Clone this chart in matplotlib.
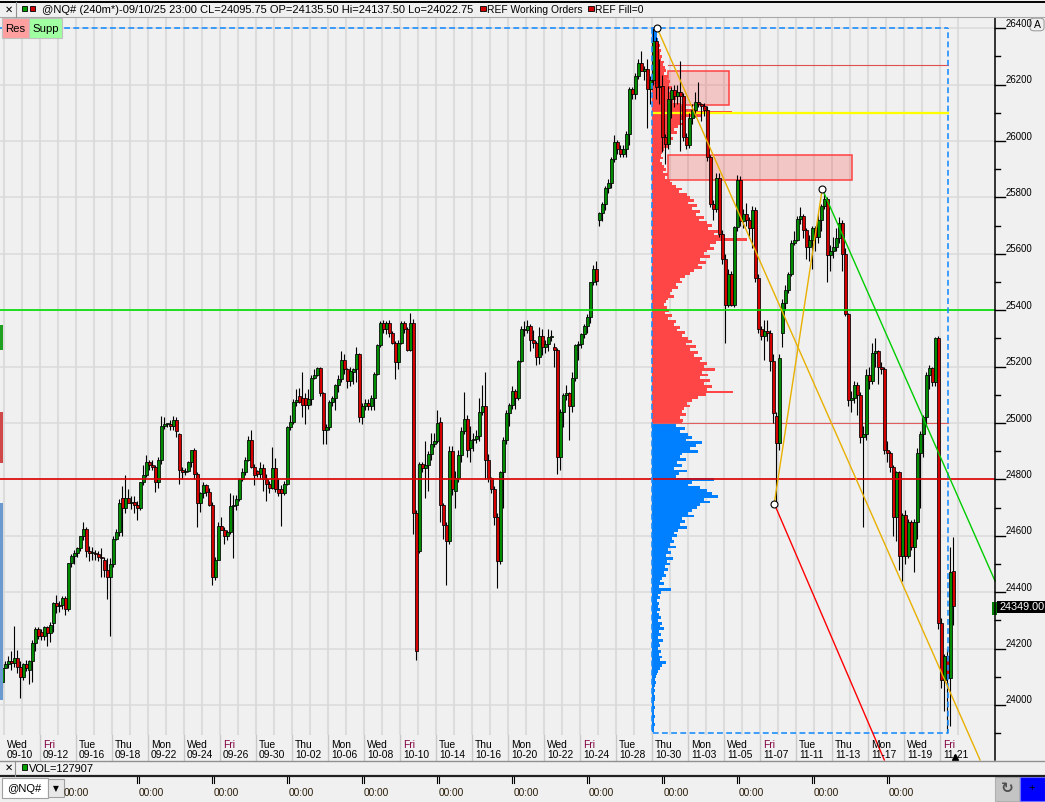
import matplotlib
matplotlib.use("Agg")
import matplotlib.pyplot as plt
from matplotlib.patches import Rectangle, FancyBboxPatch
from matplotlib.lines import Line2D

# ---------------- DATA (240-minute NQ bars) ----------------
opens = [
24080,24130,24145,24155,24150,24165,24135,24100,24145,24125,
24155,24220,24270,24260,24245,24275,24255,24290,24360,24350,
24355,24380,24340,24505,24530,24540,24555,24600,24625,24545,
24540,24540,24535,24525,24515,24480,24455,24500,24590,24615,
24735,24700,24735,24715,24720,24710,24700,24790,24815,24860,
24850,24845,24790,24870,24990,24995,24995,24990,25010,24960,
24835,24825,24830,24860,24905,24820,24715,24750,24780,24755,
24710,24455,24515,24635,24620,24600,24615,24705,24710,24730,
24800,24825,24870,24940,24845,24830,24820,24840,24800,24785,
24770,24840,24765,24765,24750,24785,24985,25005,25075,25095,
25090,25090,25065,25085,25160,25170,25195,25105,24975,24985,
25075,25090,25135,25155,25225,25190,25150,25180,25190,25245,
25020,25060,25070,25060,25090,25175,25275,25355,25335,25355,
25320,25285,25215,25285,25355,25335,25260,25355,24680,24545,
24855,24840,24850,24890,24925,24935,25005,24710,24640,24580,
24900,24760,24805,24885,24970,25015,24910,24940,24945,24955,
25040,25060,24870,24805,24765,24665,24510,24825,24940,25035,
25065,25115,25090,25220,25335,25330,25345,25295,25285,25235,
25310,25270,25280,25305,25270,25260,24880,25040,25100,25105,
25060,25160,25275,25280,25315,25345,25375,25500,25545,25720,
25745,25775,25835,25850,25935,25995,25970,25955,25970,26025,
26185,26165,26230,26275,26250,26255,26185,26215,26355,26190,
26195,26015,25990,26150,26180,26160,26175,26160,26015,25985,
26080,26110,26140,26130,26125,26110,25945,25775,25760,25870,
25670,25580,25420,25530,25420,25695,25860,25715,25740,25720,
25690,25755,25515,25335,25310,25325,25320,25220,25025,24930,
25320,25425,25470,25530,25640,25650,25725,25735,25685,25625,
25650,25690,25660,25720,25770,25795,25595,25610,25625,25655,
25710,25600,25385,25080,25090,25135,25100,24950,24960,25170,
25150,25250,25255,25200,25190,24905,24895,24845,24665,24825,
24530,24675,24530,24650,24560,24650,24895,24960,25020,25170,
25195,25145,25300,24290,24090,24175,24095,24475]
highs = [
24150,24155,24175,24190,24280,24195,24155,24150,24160,24160,
24230,24275,24275,24270,24280,24280,24295,24365,24390,24370,
24385,24385,24505,24535,24550,24560,24600,24650,24630,24565,
24560,24550,24545,24555,24525,24520,24520,24600,24625,24730,
24775,24815,24765,24740,24740,24725,24790,24850,24885,24870,
24870,24850,24880,25025,25020,25000,25010,25025,25020,24965,
24845,24840,24865,24905,24910,24825,24755,24790,24785,24770,
24720,24525,24650,24665,24630,24620,24750,24745,24745,24805,
24840,24880,24955,24975,24855,24835,24860,24855,24820,24795,
24915,24875,24805,24780,24795,24990,25030,25085,25120,25125,
25180,25105,25120,25170,25190,25200,25200,25110,24995,25080,
25095,25140,25170,25255,25245,25195,25200,25195,25270,25250,
25070,25085,25085,25100,25180,25280,25360,25365,25360,25365,
25325,25290,25295,25360,25360,25340,25390,25370,24690,24860,
24860,24935,24900,24965,24965,25045,25020,24715,24650,24920,
24920,24830,24905,24985,25110,25030,24990,24965,24975,25090,
25135,25180,24890,24810,24775,24680,24830,24950,25045,25070,
25130,25120,25225,25345,25360,25365,25350,25330,25290,25340,
25335,25295,25335,25330,25285,25265,25050,25105,25135,25110,
25180,25280,25290,25320,25350,25385,25500,25560,25575,25750,
25785,25840,25865,25945,26020,26005,25985,25985,26035,26190,
26190,26240,26290,26320,26265,26290,26230,26400,26370,26290,
26235,26025,26195,26190,26200,26200,26285,26170,26030,26100,
26130,26175,26210,26135,26135,26125,25950,25790,25885,25885,
25685,25600,25545,25540,25700,25880,25875,25760,25780,25730,
25770,25765,25530,25345,25365,25365,25330,25245,25040,25245,
25440,25490,25535,25650,25680,25735,25765,25740,25690,25665,
25700,25700,25745,25775,25830,25800,25630,25660,25690,25730,
25720,25620,25390,25115,25150,25145,25110,24990,25190,25200,
25285,25300,25260,25215,25200,24935,24900,24850,24830,24830,
24680,24690,24660,24655,24660,24910,24970,25030,25180,25205,
25200,25305,25310,24310,24180,24200,24560,24595]
lows = [
24065,24130,24130,24125,24135,24115,24025,24090,24120,24075,
24080,24190,24235,24230,24230,24210,24225,24260,24325,24330,
24340,24320,24335,24490,24500,24525,24545,24585,24525,24510,
24515,24515,24510,24455,24455,24375,24245,24490,24585,24600,
24600,24680,24720,24695,24680,24655,24690,24780,24810,24835,
24835,24755,24770,24855,24980,24985,24975,24975,24950,24785,
24800,24815,24825,24845,24800,24630,24685,24735,24740,24705,
24425,24445,24515,24620,24570,24585,24605,24520,24690,24725,
24795,24815,24865,24840,24780,24810,24800,24760,24725,24750,
24765,24755,24740,24635,24745,24780,24975,24995,25060,25070,
25020,24995,25050,25065,25155,25165,25095,24925,24925,24975,
25060,25045,25110,25145,25175,25125,25130,25140,25145,25005,
24995,25045,25045,25045,25045,25170,25270,25320,25315,25305,
25280,25155,25190,25280,25320,25255,25255,24605,24160,24540,
24825,24735,24760,24870,24915,24930,24650,24590,24425,24570,
24745,24700,24790,24860,24960,24880,24860,24900,24930,24935,
25030,24800,24790,24750,24640,24415,24500,24700,24925,24990,
25050,25050,25080,25215,25310,25320,25255,25265,25205,25210,
25240,25250,25255,25290,25200,24820,24835,24985,25080,24940,
25040,25150,25225,25265,25300,25320,25355,25490,25490,25700,
25715,25755,25815,25835,25925,25955,25945,25945,25945,25985,
26150,26150,26220,26250,26215,26045,26130,26200,26150,26130,
25960,25920,25970,26080,26120,26130,25965,26000,25970,25975,
26060,26085,26120,26070,26090,25930,25765,25720,25750,25660,
25565,25285,25410,25415,25410,25680,25700,25690,25700,25655,
25620,25500,25320,25295,25225,25290,25185,25000,24715,24905,
25270,25400,25460,25520,25630,25645,25705,25655,25580,25575,
25545,25610,25640,25680,25760,25500,25540,25585,25610,25640,
25540,25380,25060,25040,25070,25030,24930,24630,24940,25120,
25140,25200,25140,25175,24890,24860,24825,24600,24580,24480,
24440,24500,24520,24550,24470,24590,24700,24880,24990,25120,
25130,25130,24270,24060,23980,23900,23925,24285]
closes = [
24130,24145,24155,24150,24165,24135,24100,24145,24130,24155,
24220,24270,24245,24245,24275,24255,24285,24360,24350,24355,
24380,24340,24505,24530,24540,24555,24600,24625,24545,24540,
24540,24535,24525,24520,24480,24455,24500,24590,24615,24715,
24700,24735,24715,24715,24710,24700,24790,24815,24860,24850,
24845,24790,24870,24990,24995,24995,24990,25010,24970,24835,
24825,24830,24860,24905,24820,24715,24750,24780,24755,24710,
24455,24515,24635,24620,24600,24615,24705,24710,24730,24800,
24825,24870,24940,24845,24815,24820,24840,24800,24785,24770,
24840,24765,24750,24750,24785,24985,25005,25075,25080,25075,
25065,25065,25085,25160,25170,25195,25105,24975,24985,25075,
25090,25135,25155,25225,25190,25150,25185,25190,25245,25020,
25060,25070,25060,25090,25175,25275,25355,25335,25355,25320,
25285,25215,25285,25355,25335,25260,25355,24680,24190,24855,
24840,24850,24890,24925,24935,25000,24710,24640,24580,24900,
24765,24805,24885,24970,25015,24905,24940,24945,24955,25040,
25060,24870,24805,24765,24665,24510,24825,24940,25035,25065,
25115,25090,25220,25335,25330,25345,25295,25285,25235,25310,
25270,25280,25305,25310,25260,24880,25040,25100,25105,25060,
25160,25275,25280,25315,25345,25375,25500,25545,25505,25745,
25775,25835,25850,25935,25995,25970,25955,25970,26025,26185,
26165,26230,26275,26250,26255,26185,26215,26355,26190,26195,
26015,25990,26150,26180,26160,26175,26160,26015,25985,26080,
26110,26140,26130,26125,26110,25945,25775,25760,25870,25670,
25580,25420,25530,25420,25695,25860,25715,25740,25720,25690,
25755,25515,25335,25310,25325,25320,25220,25035,24930,25230,
25425,25470,25530,25640,25650,25725,25735,25685,25625,25650,
25690,25660,25720,25770,25795,25595,25610,25625,25655,25710,
25600,25385,25080,25090,25135,25100,24950,24960,25170,25150,
25250,25255,25200,25190,24905,24895,24845,24665,24825,24530,
24675,24530,24650,24560,24650,24895,24960,25020,25170,25195,
25145,25300,24290,24090,24175,24095,24470,24350]

# volume profile (10-point rows from 26400 downward), relative volume
profile_top = 26400
profile_step = 10
profile_vol = [
3,4,5,5,6, 6,8,7,9,8, 10,9,12,11,13, 14,12,16,15,18, 17,20,16,22,19,
24,21,28,32,45, 80,50,34,28,31, 26,22,25,19,21, 17,14,16,12,10, 9,11,8,10,12,
14,11,16,13,18, 20,24,30,27,35, 38,42,36,45,40, 48,44,52,47,55, 60,56,66,62,70,
95,64,58,62,55, 52,58,48,54,46, 50,42,38,33,28, 30,24,26,20,18, 22,16,14,12,15,
17,13,20,16,24, 22,28,25,33,30, 36,40,34,44,38, 46,42,50,48,55, 52,63,50,56,48,
58,52,60,55,81, 54,46,40,35,38, 32,30,34,28,31,
30,24,33,28,36, 40,34,50,44,38, 46,30,28,34,25, 30,22,35,27,24, 62,40,36,48,55,
60,66,52,58,48, 45,40,36,42,30, 33,28,35,26,22, 25,20,22,18,24, 16,19,14,21,15,
18,13,16,12,14, 10,8,12,7,19, 9,6,8,5,7, 6,8,5,7,9, 6,10,8,12,7,
9,6,11,7,8, 6,9,7,10,8, 14,10,8,6,5, 4,3,4,3,2, 3,2,3,3,2, 2,3,2,2,3, 2,2,3,2,2]
profile_split = 25000          # red above, blue below
profile_blue_top = 26360       # top tip drawn blue

support_level = 25400
resistance_level = 24800
order_levels = {"red": 26270, "yellow": 26100, "mid": 25000}
zones = [(26127, 26250, 242.3), (25861, 25952, 283.3)]   # (low, high, right bar) of working-order zones
zone_left = 221.8
swing_high = (218.3, 26400)
swing_low = (257.3, 24714)
swing_high2 = (273.3, 25830)
trend_a_end = (325.9, 23805)
trend_green_end = (330.9, 24440)
trend_red_end = (294.0, 23805)
profile_box = (216.56, 315.2, 23900, 26400)

weekdays = ["Wed","Fri","Tue","Thu","Mon","Wed","Fri","Tue","Thu","Mon","Wed","Fri","Tue","Thu",
            "Mon","Wed","Fri","Tue","Thu","Mon","Wed","Fri","Tue","Thu","Mon","Wed","Fri"]
daylabels = ["09-10","09-12","09-16","09-18","09-22","09-24","09-26","09-30","10-02","10-06",
             "10-08","10-10","10-14","10-16","10-20","10-22","10-24","10-28","10-30","11-03",
             "11-05","11-07","11-11","11-13","11-17","11-19","11-21"]
price_ticks = list(range(24000, 26401, 200))
minor_ticks = list(range(23900, 26400, 200))
last_price = 24349.00
title = "@NQ# (240m*)-09/10/25 23:00 CL=24095.75 OP=24135.50 Hi=24137.50 Lo=24022.75"
vol_text = "VOL=127907"

# ---------------- FIGURE ----------------
W, H = 1045, 802
FONT = "Liberation Sans"
BG = "#F0F0F0"
fig = plt.figure(figsize=(W / 100, H / 100), dpi=100)
fig.patch.set_facecolor(BG)

def frect(x0, y0, x1, y1, **kw):
    fig.patches.append(Rectangle((x0 / W, 1 - y1 / H), (x1 - x0) / W, (y1 - y0) / H,
                                 transform=fig.transFigure, **kw))

def fline(xs, ys, **kw):
    fig.lines.append(Line2D([x / W for x in xs], [1 - y / H for y in ys],
                            transform=fig.transFigure, **kw))

def ftext(x, y, s, **kw):
    kw.setdefault("family", FONT)
    fig.text(x / W, 1 - y / H, s, **kw)

ax = fig.add_axes([0, 1 - 735 / H, 995 / W, (735 - 18) / H])
ax.set_facecolor(BG)
ax.set_xlim(-0.777, 330.89)
ax.set_ylim(23893.6, 26436.2)
for s in ax.spines.values():
    s.set_visible(False)
ax.set_xticks([])
ax.set_yticks([])

n = len(closes)
xs = list(range(n))

# grid
for d in range(54):
    ax.axvline(0.5 + 6 * d, color="#DCDCDC", lw=1.5, zorder=0)
for p in price_ticks:
    ax.axhline(p, color="#DADADA", lw=1.1, zorder=0)

# working-order zones
for lo, hi, right in zones:
    ax.add_patch(Rectangle((zone_left, lo), right - zone_left, hi - lo,
                           facecolor=(1, 0.2, 0.2, 0.22), edgecolor="#FF4040", lw=1.1, zorder=1))

# volume profile
px = profile_box[0]
pr = [profile_top - profile_step * j for j in range(len(profile_vol))]
cols = ["#0080FF" if (p < profile_split or p >= profile_blue_top) else "#FF4646" for p in pr]
ax.barh(pr, [v / 3.0 for v in profile_vol], left=px, height=profile_step,
        color=cols, edgecolor="none", zorder=2)

# thin order lines
ax.plot([221.9, 315.2], [order_levels["red"]] * 2, color="#E05050", lw=0.8, zorder=2.5)
ax.plot([216.6, 315.2], [order_levels["yellow"]] * 2, color="#FFFF00", lw=1.6, zorder=2.5)
ax.plot([216.6, 315.2], [order_levels["mid"]] * 2, color="#E06060", lw=0.8, zorder=2.5)

# candles
ax.vlines(xs, lows, highs, color="black", lw=0.8, zorder=3)
bott = [min(o, c) for o, c in zip(opens, closes)]
hts = [max(abs(c - o), 4) for o, c in zip(opens, closes)]
bcol = ["#008C00" if c >= o else "#D40000" for o, c in zip(opens, closes)]
ax.bar(xs, hts, bottom=bott, width=0.86, color=bcol, edgecolor="black", lw=0.55, zorder=4)

# support / resistance
ax.axhline(support_level, color="#00DD00", lw=1.2, zorder=5)
ax.axhline(resistance_level, color="#DD0000", lw=1.2, zorder=5)

# profile dashed box
x0b, x1b, y0b, y1b = profile_box
dash = (0, (3.5, 2))
ax.plot([x0b, x0b, x1b, x1b], [y1b, y0b, y0b, y1b], color="#1E8FFF", lw=1.2, ls=dash, zorder=6)
ax.plot([-0.777, x1b], [y1b, y1b], color="#1E8FFF", lw=1.2, ls=dash, zorder=6)

# trend lines
ax.plot([swing_high[0], trend_a_end[0]], [swing_high[1], trend_a_end[1]],
        color="#E8B000", lw=1.0, zorder=7, clip_on=False)
ax.plot([swing_low[0], swing_high2[0]], [swing_low[1], swing_high2[1]],
        color="#E8B000", lw=1.0, zorder=7, clip_on=False)
ax.plot([swing_high2[0], trend_green_end[0]], [swing_high2[1], trend_green_end[1]],
        color="#00CC00", lw=1.0, zorder=7, clip_on=False)
ax.plot([swing_low[0], trend_red_end[0]], [swing_low[1], trend_red_end[1]],
        color="#FF0000", lw=1.0, zorder=7, clip_on=False)
for pt in (swing_high, swing_low, swing_high2):
    ax.plot([pt[0]], [pt[1]], marker="o", ms=5, mfc="white", mec="black", mew=0.8,
            zorder=8, clip_on=False)

fig.canvas.draw()

def ypx(p):
    return H - ax.transData.transform((0, p))[1]

# left-edge strips
frect(0, 325, 2.5, 350, facecolor="#20A020", edgecolor="none")
frect(0, 412, 2.5, 463, facecolor="#D04848", edgecolor="none")
frect(0, 503, 2.5, 700, facecolor="#6A9AD0", edgecolor="none")

# right price axis
fline([995, 995], [18, 760], color="black", lw=1.1)
for p in price_ticks:
    y = ypx(p)
    fline([995, 1005], [y, y], color="black", lw=1.0)
    ftext(1006, y + 0.5, str(p), fontsize=6.9, va="bottom", ha="left", color="black")
for p in minor_ticks:
    y = ypx(p)
    fline([995, 999.5], [y, y], color="black", lw=1.0)

# last price tag
yl = ypx(last_price)
frect(991.5, yl - 5, 996.5, yl + 8, facecolor="#008000", edgecolor="none")
frect(997, yl - 6, 1045, yl + 6, facecolor="black", edgecolor="none")
ftext(999, yl, "%.2f" % last_price, fontsize=7.8, color="white", va="center", ha="left")

# "A" button
fig.patches.append(FancyBboxPatch((1031 / W, 1 - 30 / H), 12 / W, 11 / H,
                                  boxstyle="round,pad=0.001,rounding_size=0.004",
                                  transform=fig.transFigure, facecolor=BG, edgecolor="#A0A0A0", lw=0.8))
ftext(1037, 24.5, "A", fontsize=7.5, ha="center", va="center")

# date axis
for k in range(1, 27):
    fline([3.83 + 36 * k] * 2, [735, 760], color="#C8C8C8", lw=1.0)
for k, (wd, dl) in enumerate(zip(weekdays, daylabels)):
    x = 7 + 36 * k
    ftext(x, 744.5, wd, fontsize=7.4, va="center", ha="left",
          color="#800040" if wd == "Fri" else "black")
    ftext(x, 755.5, dl, fontsize=7.4, va="center", ha="left", color="black")
fig.lines.append(Line2D([955 / W], [1 - 757 / H], marker="^", ms=5, color="black",
                        transform=fig.transFigure))

# VOL pane
fline([0, W], [760.5, 760.5], color="#909090", lw=1.0)
fline([0, W], [776, 776], color="#202020", lw=1.6)
ftext(8.5, 768, "\u2715", fontsize=7, family="DejaVu Sans", ha="center", va="center")
fline([15, 15], [761, 776], color="#909090", lw=0.8)
frect(21.7, 764, 26.7, 770, facecolor="#00A000", edgecolor="black", lw=0.6)
ftext(28.5, 768.5, vol_text, fontsize=7.9, va="center", ha="left")

# bottom toolbar
for k in range(12):
    x = 64 + 75 * k
    ftext(x, 793, "00:00", fontsize=7.3, va="center", ha="left", color="#2A1C08")
    if k > 0:
        fline([x - 2, x - 2], [777, 782.5], color="black", lw=0.8)
        fline([x + 0.2, x + 0.2], [777, 782.5], color="black", lw=0.8)
frect(2, 778, 48, 798, facecolor="white", edgecolor="#A0A0A0", lw=0.8)
frect(48, 779, 64, 797, facecolor="#E8E8E8", edgecolor="#A0A0A0", lw=0.8)
ftext(56, 788.5, "\u25BC", fontsize=5.5, family="DejaVu Sans", ha="center", va="center")
ftext(7, 788.5, "@NQ#", fontsize=8, va="center", ha="left")
frect(995, 777, 1019, 801, facecolor="#C4C4C4", edgecolor="#B0B0B0", lw=0.8)
ftext(1007, 789, "\u21BB", fontsize=11, family="DejaVu Sans", ha="center", va="center",
      color="#505050", fontweight="bold")
frect(1019.5, 777, 1044.5, 801, facecolor="#0000FF", edgecolor="#7070FF", lw=0.8)
ftext(1032, 788.5, "+", fontsize=8, ha="center", va="center", color="black")

# title bar
fline([0, W], [1.5, 1.5], color="black", lw=1.4)
fline([0, W], [17, 17], color="#A8A8A8", lw=0.8)
ftext(8.5, 9.5, "\u2715", fontsize=7, family="DejaVu Sans", ha="center", va="center")
fline([15.5, 15.5], [2, 17], color="#909090", lw=0.8)
frect(21.7, 5.5, 26.7, 11, facecolor="#00A000", edgecolor="black", lw=0.6)
frect(30, 5.5, 35, 11, facecolor="#D00000", edgecolor="black", lw=0.6)
ftext(42.5, 9.7, title, fontsize=8.0, va="center", ha="left")
frect(480, 5.5, 485.5, 11, facecolor="#D00000", edgecolor="black", lw=0.6)
ftext(487, 9.7, "REF Working Orders", fontsize=7.4, va="center", ha="left")
frect(588, 5.5, 593.5, 11, facecolor="#D00000", edgecolor="black", lw=0.6)
ftext(595, 9.7, "REF Fill=0", fontsize=7.4, va="center", ha="left")

# Res / Supp buttons
frect(2, 18.5, 29, 38, facecolor="#FFA0A0", edgecolor="#C0C0C0", lw=0.8)
frect(29, 18.5, 62, 38, facecolor="#A0FFA0", edgecolor="#C0C0C0", lw=0.8)
ftext(15.5, 28.5, "Res", fontsize=8.2, ha="center", va="center")
ftext(45.5, 28.5, "Supp", fontsize=8.2, ha="center", va="center")

fig.savefig("out.png", dpi=100, facecolor=BG)
